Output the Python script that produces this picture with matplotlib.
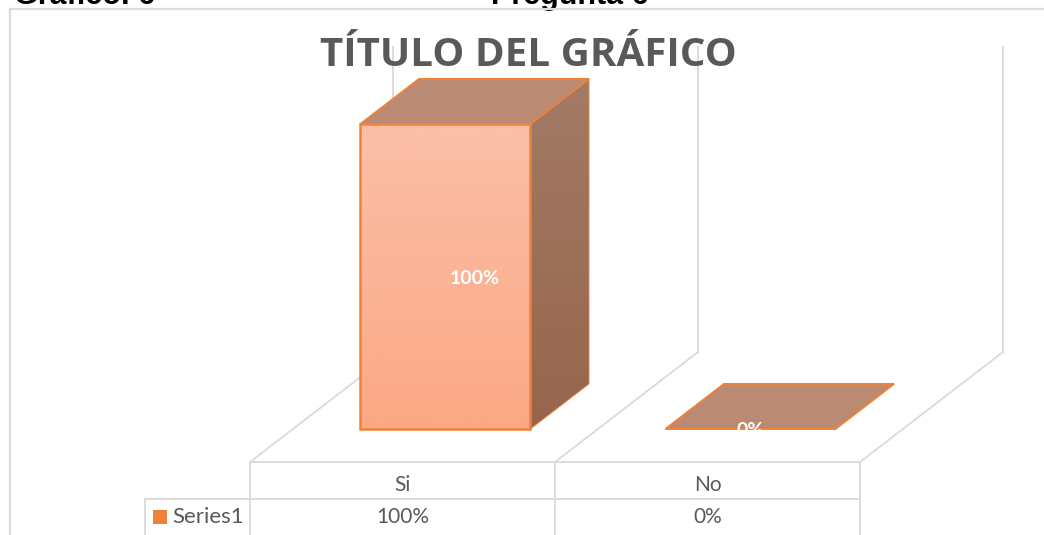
import numpy as np
import matplotlib
matplotlib.use("Agg")
import matplotlib.pyplot as plt
from matplotlib.patches import Polygon

categories = ["Si", "No"]
values = [1.00, 0.00]
labels = ["100%", "0%"]
series_name = "Series1"
title = "TÍTULO DEL GRÁFICO"
header_left = "Gráfico. 6"
header_right = "Pregunta 6"

plt.rcParams['font.family'] = ['Lato', 'DejaVu Sans']
W, H = 1044, 535
fig = plt.figure(figsize=(W/100, H/100), dpi=100, facecolor='white')
ax = fig.add_axes([0, 0, 1, 1])
ax.set_xlim(0, W); ax.set_ylim(H, 0); ax.axis('off')

# data space: x = category slots, y = share, z = depth (0 front, 1 back of floor)
SLOT = 305.0; X0 = 250.0; FLOOR = 462.0; UNIT = 305.0
DX, DY = 143.0, -110.0
def P(x, y, z=0.0):
    return (X0 + SLOT*x + DX*z, FLOOR - UNIT*y + DY*z)

GRID = '#dcdcdc'
ORANGE = '#ef8239'
TEXT = '#595959'
def line(a, b, lw=1.4, c=GRID, z=1):
    ax.plot([a[0], b[0]], [a[1], b[1]], color=c, lw=lw, zorder=z, solid_capstyle='projecting')

n = len(categories)
WALL = 1.0
for i in range(n+1):
    line(P(i, 0, 0), P(i, 0, 1))
    line(P(i, 0, 1), P(i, WALL, 1))
line(P(0, 0, 0), P(n, 0, 0))

BW = 170/305
def gradient(poly, c0, c1, z=3):
    xs = [p[0] for p in poly]; ys = [p[1] for p in poly]
    g = np.linspace(0, 1, 256)[:, None]
    c0 = np.array(matplotlib.colors.to_rgb(c0)); c1 = np.array(matplotlib.colors.to_rgb(c1))
    img = (c0[None, :]*(1-g) + c1[None, :]*g)[:, None, :]
    im = ax.imshow(img, extent=(min(xs), max(xs), max(ys), min(ys)), aspect='auto', zorder=z)
    pg = Polygon(poly, closed=True, fc='none', ec='none', transform=ax.transData)
    ax.add_patch(pg); im.set_clip_path(pg)

FZ = 0.30; BZ = 0.71
for i, v in enumerate(values):
    l = i + (1-BW)/2; r = l + BW
    fb, fbr = P(l, 0, FZ), P(r, 0, FZ)
    ft, ftr = P(l, v, FZ), P(r, v, FZ)
    bt, btr = P(l, v, BZ), P(r, v, BZ)
    bbr = P(r, 0, BZ)
    if v > 0:
        gradient([ftr, btr, bbr, fbr], '#a27b66', '#97654c')
        ax.add_patch(Polygon([ftr, btr, bbr, fbr], closed=True, fc='none', ec=ORANGE, lw=0.6, zorder=4))
        gradient([ft, ftr, fbr, fb], '#fbbfa8', '#fba884')
        ax.add_patch(Polygon([ft, ftr, fbr, fb], closed=True, fc='none', ec=ORANGE, lw=1.8, zorder=5))
    top = Polygon([ft, ftr, btr, bt], closed=True, fc='#ba8a73', ec=ORANGE, lw=1.4, zorder=4)
    ax.add_patch(top)
    cx = (l+r)/2
    lx = P(cx, 0, FZ + (BZ-FZ)*v/2)[0]
    ly = P(cx, v/2, FZ)[1]
    t = ax.text(lx, ly + 2, labels[i], color='white', fontsize=14, fontweight='bold',
                ha='center', va='center', zorder=6)
    if v == 0:
        t.set_clip_path(top)

# Data table
ROW1 = 498.5; BOT = H + 2
for i in range(n+1):
    px = P(i, 0, 0)[0]
    line((px, FLOOR), (px, BOT))
line((145, ROW1), (P(n, 0, 0)[0], ROW1))
line((145, ROW1), (145, BOT))
for i, c in enumerate(categories):
    x = P(i+0.5, 0, 0)[0]
    ax.text(x, 485, c, color=TEXT, fontsize=15, ha='center', va='center', zorder=6)
    ax.text(x, 517, labels[i], color=TEXT, fontsize=15, ha='center', va='center', zorder=6)
ax.add_patch(Polygon([(153,510),(167,510),(167,524),(153,524)], closed=True, fc=ORANGE, ec='none', zorder=6))
ax.text(172, 517, series_name, color=TEXT, fontsize=16, ha='left', va='center', zorder=6)

# Outer frame
line((9.5, BOT), (9.5, 9), lw=1.6)
line((9.5, 9), (W+2, 9), lw=1.6)

ax.text(528.5, 56, title, color=TEXT, fontsize=29, fontweight='bold', family=['Open Sans'],
        ha='center', va='center', zorder=7)
ax.text(14, 4, header_left, color='black', fontsize=22, fontweight='bold', family=['Liberation Sans'],
        ha='left', va='baseline', zorder=0)
ax.text(491, 4, header_right, color='black', fontsize=22, fontweight='bold', family=['Liberation Sans'],
        ha='left', va='baseline', zorder=0)

fig.savefig('out.png', dpi=100)
